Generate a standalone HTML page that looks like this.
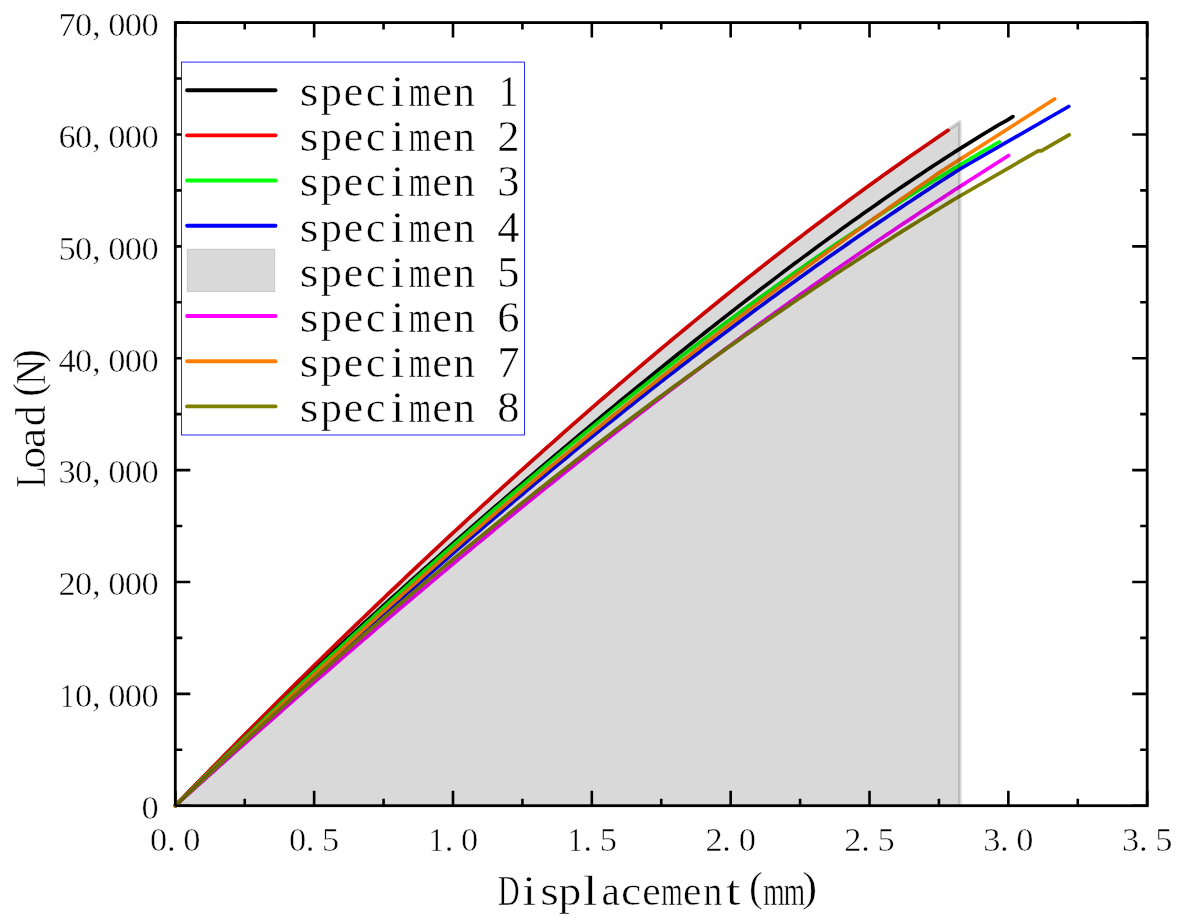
<!DOCTYPE html><html><head><meta charset="utf-8"><style>html,body{margin:0;padding:0;background:#fff;}svg{display:block;}text{font-family:"Liberation Serif",serif;fill:#000;stroke:#fff;stroke-width:0.5px;}</style></head><body>
<svg width="1184" height="922" viewBox="0 0 1184 922">
<rect x="0" y="0" width="1184" height="922" fill="#fff"/>
<rect x="175.30" y="22.60" width="971.90" height="783.10" fill="none" stroke="#000" stroke-width="2.8"/>
<path d="M175.30,805.70 L179.30,801.60 L183.30,797.50 L187.30,793.42 L191.30,789.36 L195.30,785.30 L199.30,781.26 L203.30,777.22 L207.30,773.20 L211.30,769.19 L215.30,765.19 L219.30,761.21 L223.30,757.23 L227.30,753.26 L231.30,749.31 L235.30,745.36 L239.30,741.43 L243.30,737.50 L247.30,733.59 L251.30,729.69 L255.30,725.79 L259.30,721.91 L263.30,718.03 L267.30,714.17 L271.30,710.31 L275.30,706.46 L279.30,702.62 L283.30,698.79 L287.30,694.97 L291.30,691.16 L295.30,687.36 L299.30,683.57 L303.30,679.78 L307.30,676.01 L311.30,672.24 L315.30,668.48 L319.30,664.72 L323.30,660.98 L327.30,657.24 L331.30,653.52 L335.30,649.79 L339.30,646.08 L343.30,642.38 L347.30,638.68 L351.30,634.99 L355.30,631.30 L359.30,627.63 L363.30,623.96 L367.30,620.30 L371.30,616.64 L375.30,613.00 L379.30,609.36 L383.30,605.72 L387.30,602.09 L391.30,598.47 L395.30,594.86 L399.30,591.25 L403.30,587.65 L407.30,584.06 L411.30,580.47 L415.30,576.89 L419.30,573.31 L423.30,569.74 L427.30,566.18 L431.30,562.62 L435.30,559.07 L439.30,555.53 L443.30,551.99 L447.30,548.45 L451.30,544.93 L455.30,541.40 L459.30,537.89 L463.30,534.38 L467.30,530.88 L471.30,527.38 L475.30,523.88 L479.30,520.40 L483.30,516.92 L487.30,513.44 L491.30,509.97 L495.30,506.50 L499.30,503.05 L503.30,499.59 L507.30,496.14 L511.30,492.70 L515.30,489.26 L519.30,485.83 L523.30,482.40 L527.30,478.98 L531.30,475.57 L535.30,472.16 L539.30,468.75 L543.30,465.35 L547.30,461.96 L551.30,458.57 L555.30,455.19 L559.30,451.81 L563.30,448.44 L567.30,445.07 L571.30,441.71 L575.30,438.35 L579.30,435.00 L583.30,431.66 L587.30,428.32 L591.30,424.98 L595.30,421.65 L599.30,418.33 L603.30,415.01 L607.30,411.70 L611.30,408.39 L615.30,405.09 L619.30,401.80 L623.30,398.51 L627.30,395.22 L631.30,391.94 L635.30,388.67 L639.30,385.40 L643.30,382.14 L647.30,378.89 L651.30,375.64 L655.30,372.39 L659.30,369.16 L663.30,365.93 L667.30,362.70 L671.30,359.48 L675.30,356.27 L679.30,353.06 L683.30,349.86 L687.30,346.67 L691.30,343.48 L695.30,340.30 L699.30,337.13 L703.30,333.96 L707.30,330.80 L711.30,327.64 L715.30,324.50 L719.30,321.36 L723.30,318.22 L727.30,315.10 L731.30,311.98 L735.30,308.86 L739.30,305.76 L743.30,302.66 L747.30,299.57 L751.30,296.49 L755.30,293.41 L759.30,290.34 L763.30,287.28 L767.30,284.23 L771.30,281.19 L775.30,278.15 L779.30,275.12 L783.30,272.10 L787.30,269.09 L791.30,266.09 L795.30,263.09 L799.30,260.11 L803.30,257.13 L807.30,254.16 L811.30,251.20 L815.30,248.25 L819.30,245.31 L823.30,242.38 L827.30,239.45 L831.30,236.54 L835.30,233.64 L839.30,230.74 L843.30,227.86 L847.30,224.98 L851.30,222.12 L855.30,219.27 L859.30,216.42 L863.30,213.59 L867.30,210.77 L871.30,207.95 L875.30,205.15 L879.30,202.36 L883.30,199.58 L887.30,196.82 L891.30,194.06 L895.30,191.32 L899.30,188.58 L903.30,185.86 L907.30,183.15 L911.30,180.46 L915.30,177.77 L919.30,175.10 L923.30,172.44 L927.30,169.79 L931.30,167.16 L935.30,164.54 L939.30,161.93 L943.30,159.33 L947.30,156.75 L951.30,154.19 L955.30,151.63 L959.30,149.09 L963.30,146.57 L967.30,144.06 L971.30,141.56 L975.30,139.08 L979.30,136.61 L983.30,134.16 L987.30,131.73 L991.30,129.30 L995.30,126.90 L999.30,124.51 L1000.00,124.09 L1006.50,120.60 L1012.90,116.60" fill="none" stroke="#000000" stroke-width="3.70" stroke-linecap="round" stroke-linejoin="round"/>
<path d="M175.30,805.70 L179.30,801.55 L183.30,797.42 L187.30,793.28 L191.30,789.16 L195.30,785.04 L199.30,780.92 L203.30,776.82 L207.30,772.72 L211.30,768.62 L215.30,764.54 L219.30,760.46 L223.30,756.38 L227.30,752.31 L231.30,748.25 L235.30,744.20 L239.30,740.15 L243.30,736.10 L247.30,732.07 L251.30,728.04 L255.30,724.01 L259.30,719.99 L263.30,715.98 L267.30,711.98 L271.30,707.98 L275.30,703.99 L279.30,700.00 L283.30,696.02 L287.30,692.05 L291.30,688.08 L295.30,684.12 L299.30,680.16 L303.30,676.21 L307.30,672.27 L311.30,668.33 L315.30,664.40 L319.30,660.48 L323.30,656.56 L327.30,652.65 L331.30,648.74 L335.30,644.84 L339.30,640.95 L343.30,637.06 L347.30,633.18 L351.30,629.30 L355.30,625.44 L359.30,621.57 L363.30,617.72 L367.30,613.87 L371.30,610.02 L375.30,606.18 L379.30,602.35 L383.30,598.53 L387.30,594.71 L391.30,590.90 L395.30,587.09 L399.30,583.29 L403.30,579.49 L407.30,575.71 L411.30,571.92 L415.30,568.15 L419.30,564.38 L423.30,560.62 L427.30,556.86 L431.30,553.11 L435.30,549.37 L439.30,545.63 L443.30,541.90 L447.30,538.17 L451.30,534.45 L455.30,530.74 L459.30,527.04 L463.30,523.34 L467.30,519.64 L471.30,515.96 L475.30,512.28 L479.30,508.60 L483.30,504.93 L487.30,501.27 L491.30,497.62 L495.30,493.97 L499.30,490.33 L503.30,486.69 L507.30,483.07 L511.30,479.44 L515.30,475.83 L519.30,472.22 L523.30,468.62 L527.30,465.02 L531.30,461.43 L535.30,457.85 L539.30,454.28 L543.30,450.71 L547.30,447.15 L551.30,443.59 L555.30,440.04 L559.30,436.50 L563.30,432.97 L567.30,429.44 L571.30,425.92 L575.30,422.41 L579.30,418.90 L583.30,415.40 L587.30,411.91 L591.30,408.42 L595.30,404.94 L599.30,401.47 L603.30,398.01 L607.30,394.55 L611.30,391.10 L615.30,387.66 L619.30,384.22 L623.30,380.79 L627.30,377.37 L631.30,373.96 L635.30,370.55 L639.30,367.15 L643.30,363.76 L647.30,360.38 L651.30,357.00 L655.30,353.63 L659.30,350.27 L663.30,346.91 L667.30,343.57 L671.30,340.23 L675.30,336.90 L679.30,333.57 L683.30,330.26 L687.30,326.95 L691.30,323.65 L695.30,320.36 L699.30,317.08 L703.30,313.80 L707.30,310.53 L711.30,307.27 L715.30,304.02 L719.30,300.78 L723.30,297.54 L727.30,294.31 L731.30,291.09 L735.30,287.88 L739.30,284.68 L743.30,281.48 L747.30,278.30 L751.30,275.12 L755.30,271.95 L759.30,268.79 L763.30,265.64 L767.30,262.50 L771.30,259.36 L775.30,256.24 L779.30,253.12 L783.30,250.01 L787.30,246.91 L791.30,243.82 L795.30,240.74 L799.30,237.67 L803.30,234.61 L807.30,231.55 L811.30,228.51 L815.30,225.47 L819.30,222.44 L823.30,219.43 L827.30,216.42 L831.30,213.42 L835.30,210.43 L839.30,207.45 L843.30,204.48 L847.30,201.52 L851.30,198.57 L855.30,195.63 L859.30,192.70 L863.30,189.78 L867.30,186.87 L871.30,183.97 L875.30,181.08 L879.30,178.20 L883.30,175.33 L887.30,172.47 L891.30,169.62 L895.30,166.78 L899.30,163.95 L903.30,161.13 L907.30,158.32 L911.30,155.53 L915.30,152.74 L919.30,149.96 L923.30,147.20 L927.30,144.44 L931.30,141.70 L935.30,138.97 L939.30,136.24 L943.30,133.53 L947.30,130.83 L948.00,130.36" fill="none" stroke="#ff0000" stroke-width="3.70" stroke-linecap="round" stroke-linejoin="round"/>
<path d="M175.30,805.70 L179.30,801.74 L183.30,797.79 L187.30,793.84 L191.30,789.90 L195.30,785.96 L199.30,782.03 L203.30,778.11 L207.30,774.19 L211.30,770.28 L215.30,766.37 L219.30,762.47 L223.30,758.58 L227.30,754.69 L231.30,750.81 L235.30,746.93 L239.30,743.06 L243.30,739.20 L247.30,735.34 L251.30,731.48 L255.30,727.64 L259.30,723.80 L263.30,719.96 L267.30,716.13 L271.30,712.31 L275.30,708.49 L279.30,704.68 L283.30,700.88 L287.30,697.08 L291.30,693.29 L295.30,689.50 L299.30,685.72 L303.30,681.95 L307.30,678.18 L311.30,674.42 L315.30,670.67 L319.30,666.92 L323.30,663.18 L327.30,659.44 L331.30,655.71 L335.30,651.99 L339.30,648.27 L343.30,644.56 L347.30,640.86 L351.30,637.16 L355.30,633.47 L359.30,629.78 L363.30,626.10 L367.30,622.43 L371.30,618.77 L375.30,615.11 L379.30,611.46 L383.30,607.81 L387.30,604.17 L391.30,600.54 L395.30,596.91 L399.30,593.29 L403.30,589.68 L407.30,586.08 L411.30,582.48 L415.30,578.89 L419.30,575.30 L423.30,571.72 L427.30,568.15 L431.30,564.59 L435.30,561.03 L439.30,557.48 L443.30,553.93 L447.30,550.39 L451.30,546.86 L455.30,543.34 L459.30,539.82 L463.30,536.32 L467.30,532.81 L471.30,529.32 L475.30,525.83 L479.30,522.35 L483.30,518.88 L487.30,515.41 L491.30,511.95 L495.30,508.50 L499.30,505.05 L503.30,501.61 L507.30,498.18 L511.30,494.76 L515.30,491.34 L519.30,487.94 L523.30,484.54 L527.30,481.14 L531.30,477.76 L535.30,474.38 L539.30,471.01 L543.30,467.64 L547.30,464.29 L551.30,460.94 L555.30,457.60 L559.30,454.27 L563.30,450.94 L567.30,447.62 L571.30,444.31 L575.30,441.01 L579.30,437.72 L583.30,434.43 L587.30,431.15 L591.30,427.88 L595.30,424.62 L599.30,421.36 L603.30,418.12 L607.30,414.88 L611.30,411.65 L615.30,408.42 L619.30,405.21 L623.30,402.00 L627.30,398.80 L631.30,395.61 L635.30,392.43 L639.30,389.26 L643.30,386.09 L647.30,382.93 L651.30,379.79 L655.30,376.65 L659.30,373.51 L663.30,370.39 L667.30,367.28 L671.30,364.17 L675.30,361.07 L679.30,357.98 L683.30,354.90 L687.30,351.83 L691.30,348.77 L695.30,345.71 L699.30,342.66 L703.30,339.63 L707.30,336.60 L711.30,333.58 L715.30,330.57 L719.30,327.57 L723.30,324.57 L727.30,321.59 L731.30,318.62 L735.30,315.65 L739.30,312.69 L743.30,309.75 L747.30,306.81 L751.30,303.88 L755.30,300.96 L759.30,298.05 L763.30,295.15 L767.30,292.26 L771.30,289.38 L775.30,286.50 L779.30,283.64 L783.30,280.79 L787.30,277.94 L791.30,275.11 L795.30,272.28 L799.30,269.47 L803.30,266.66 L807.30,263.86 L811.30,261.08 L815.30,258.30 L819.30,255.54 L823.30,252.78 L827.30,250.03 L831.30,247.30 L835.30,244.57 L839.30,241.85 L843.30,239.15 L847.30,236.45 L851.30,233.76 L855.30,231.09 L859.30,228.42 L863.30,225.77 L867.30,223.12 L871.30,220.49 L875.30,217.86 L879.30,215.25 L883.30,212.65 L887.30,210.06 L891.30,207.47 L895.30,204.90 L899.30,202.34 L903.30,199.79 L907.30,197.25 L911.30,194.73 L915.30,192.21 L919.30,189.70 L923.30,187.21 L927.30,184.72 L931.30,182.25 L935.30,179.79 L939.30,177.34 L943.30,174.90 L947.30,172.47 L951.30,170.05 L955.30,167.64 L959.30,165.25 L963.30,162.87 L967.30,160.49 L971.30,158.13 L975.30,155.78 L979.30,153.45 L983.30,151.12 L987.30,148.81 L991.30,146.51 L995.30,144.22 L999.20,141.99" fill="none" stroke="#00ff00" stroke-width="3.70" stroke-linecap="round" stroke-linejoin="round"/>
<path d="M175.30,805.70 L179.30,801.92 L183.30,798.14 L187.30,794.37 L191.30,790.60 L195.30,786.84 L199.30,783.07 L203.30,779.32 L207.30,775.56 L211.30,771.81 L215.30,768.06 L219.30,764.32 L223.30,760.58 L227.30,756.84 L231.30,753.11 L235.30,749.38 L239.30,745.66 L243.30,741.94 L247.30,738.22 L251.30,734.51 L255.30,730.80 L259.30,727.10 L263.30,723.40 L267.30,719.71 L271.30,716.01 L275.30,712.33 L279.30,708.65 L283.30,704.97 L287.30,701.29 L291.30,697.63 L295.30,693.96 L299.30,690.30 L303.30,686.64 L307.30,682.99 L311.30,679.35 L315.30,675.71 L319.30,672.07 L323.30,668.44 L327.30,664.81 L331.30,661.18 L335.30,657.57 L339.30,653.95 L343.30,650.34 L347.30,646.74 L351.30,643.14 L355.30,639.55 L359.30,635.96 L363.30,632.38 L367.30,628.80 L371.30,625.22 L375.30,621.65 L379.30,618.09 L383.30,614.53 L387.30,610.98 L391.30,607.43 L395.30,603.89 L399.30,600.35 L403.30,596.82 L407.30,593.29 L411.30,589.77 L415.30,586.26 L419.30,582.75 L423.30,579.24 L427.30,575.74 L431.30,572.25 L435.30,568.76 L439.30,565.28 L443.30,561.80 L447.30,558.33 L451.30,554.86 L455.30,551.40 L459.30,547.95 L463.30,544.50 L467.30,541.06 L471.30,537.62 L475.30,534.19 L479.30,530.77 L483.30,527.35 L487.30,523.93 L491.30,520.53 L495.30,517.12 L499.30,513.73 L503.30,510.34 L507.30,506.96 L511.30,503.58 L515.30,500.21 L519.30,496.84 L523.30,493.49 L527.30,490.13 L531.30,486.79 L535.30,483.45 L539.30,480.11 L543.30,476.79 L547.30,473.46 L551.30,470.15 L555.30,466.84 L559.30,463.54 L563.30,460.24 L567.30,456.96 L571.30,453.67 L575.30,450.40 L579.30,447.13 L583.30,443.86 L587.30,440.61 L591.30,437.36 L595.30,434.12 L599.30,430.88 L603.30,427.65 L607.30,424.43 L611.30,421.21 L615.30,418.00 L619.30,414.80 L623.30,411.60 L627.30,408.41 L631.30,405.23 L635.30,402.05 L639.30,398.88 L643.30,395.72 L647.30,392.57 L651.30,389.42 L655.30,386.28 L659.30,383.15 L663.30,380.02 L667.30,376.90 L671.30,373.79 L675.30,370.68 L679.30,367.58 L683.30,364.49 L687.30,361.41 L691.30,358.33 L695.30,355.26 L699.30,352.20 L703.30,349.14 L707.30,346.09 L711.30,343.05 L715.30,340.02 L719.30,336.99 L723.30,333.97 L727.30,330.96 L731.30,327.96 L735.30,324.96 L739.30,321.97 L743.30,318.99 L747.30,316.01 L751.30,313.05 L755.30,310.09 L759.30,307.13 L763.30,304.19 L767.30,301.25 L771.30,298.32 L775.30,295.40 L779.30,292.48 L783.30,289.58 L787.30,286.68 L791.30,283.79 L795.30,280.90 L799.30,278.03 L803.30,275.16 L807.30,272.30 L811.30,269.44 L815.30,266.60 L819.30,263.76 L823.30,260.93 L827.30,258.11 L831.30,255.30 L835.30,252.49 L839.30,249.69 L843.30,246.90 L847.30,244.12 L851.30,241.34 L855.30,238.58 L859.30,235.82 L863.30,233.07 L867.30,230.32 L871.30,227.59 L875.30,224.86 L879.30,222.14 L883.30,219.43 L887.30,216.73 L891.30,214.03 L895.30,211.34 L899.30,208.66 L903.30,205.99 L907.30,203.33 L911.30,200.68 L915.30,198.03 L919.30,195.39 L923.30,192.76 L927.30,190.14 L931.30,187.53 L935.30,184.92 L939.30,182.32 L943.30,179.73 L947.30,177.15 L951.30,174.58 L955.30,172.01 L959.30,169.46 L960.00,169.01 L1049.50,117.50 L1068.70,106.50" fill="none" stroke="#0000ff" stroke-width="3.70" stroke-linecap="round" stroke-linejoin="round"/>
<path d="M175.30,805.70 L179.30,802.09 L183.30,798.49 L187.30,794.89 L191.30,791.29 L195.30,787.70 L199.30,784.11 L203.30,780.52 L207.30,776.93 L211.30,773.35 L215.30,769.77 L219.30,766.20 L223.30,762.63 L227.30,759.06 L231.30,755.49 L235.30,751.93 L239.30,748.37 L243.30,744.82 L247.30,741.27 L251.30,737.72 L255.30,734.18 L259.30,730.64 L263.30,727.10 L267.30,723.57 L271.30,720.04 L275.30,716.51 L279.30,712.99 L283.30,709.47 L287.30,705.95 L291.30,702.44 L295.30,698.94 L299.30,695.43 L303.30,691.93 L307.30,688.44 L311.30,684.94 L315.30,681.46 L319.30,677.97 L323.30,674.49 L327.30,671.02 L331.30,667.54 L335.30,664.08 L339.30,660.61 L343.30,657.15 L347.30,653.70 L351.30,650.24 L355.30,646.80 L359.30,643.35 L363.30,639.91 L367.30,636.48 L371.30,633.05 L375.30,629.62 L379.30,626.20 L383.30,622.78 L387.30,619.37 L391.30,615.96 L395.30,612.55 L399.30,609.15 L403.30,605.76 L407.30,602.37 L411.30,598.98 L415.30,595.60 L419.30,592.22 L423.30,588.85 L427.30,585.48 L431.30,582.12 L435.30,578.76 L439.30,575.40 L443.30,572.05 L447.30,568.71 L451.30,565.37 L455.30,562.03 L459.30,558.70 L463.30,555.37 L467.30,552.05 L471.30,548.74 L475.30,545.42 L479.30,542.12 L483.30,538.82 L487.30,535.52 L491.30,532.23 L495.30,528.94 L499.30,525.66 L503.30,522.38 L507.30,519.11 L511.30,515.84 L515.30,512.58 L519.30,509.33 L523.30,506.07 L527.30,502.83 L531.30,499.59 L535.30,496.35 L539.30,493.12 L543.30,489.90 L547.30,486.68 L551.30,483.46 L555.30,480.25 L559.30,477.05 L563.30,473.85 L567.30,470.66 L571.30,467.47 L575.30,464.29 L579.30,461.11 L583.30,457.94 L587.30,454.77 L591.30,451.61 L595.30,448.46 L599.30,445.31 L603.30,442.16 L607.30,439.02 L611.30,435.89 L615.30,432.76 L619.30,429.64 L623.30,426.53 L627.30,423.42 L631.30,420.31 L635.30,417.21 L639.30,414.12 L643.30,411.03 L647.30,407.95 L651.30,404.88 L655.30,401.81 L659.30,398.74 L663.30,395.68 L667.30,392.63 L671.30,389.59 L675.30,386.55 L679.30,383.51 L683.30,380.48 L687.30,377.46 L691.30,374.44 L695.30,371.43 L699.30,368.43 L703.30,365.43 L707.30,362.44 L711.30,359.45 L715.30,356.47 L719.30,353.50 L723.30,350.53 L727.30,347.57 L731.30,344.62 L735.30,341.67 L739.30,338.72 L743.30,335.79 L747.30,332.86 L751.30,329.93 L755.30,327.02 L759.30,324.10 L763.30,321.20 L767.30,318.30 L771.30,315.41 L775.30,312.52 L779.30,309.64 L783.30,306.77 L787.30,303.90 L791.30,301.04 L795.30,298.19 L799.30,295.34 L803.30,292.50 L807.30,289.67 L811.30,286.84 L815.30,284.02 L819.30,281.21 L823.30,278.40 L827.30,275.60 L831.30,272.80 L835.30,270.01 L839.30,267.23 L843.30,264.46 L847.30,261.69 L851.30,258.93 L855.30,256.18 L859.30,253.43 L863.30,250.69 L867.30,247.95 L871.30,245.23 L875.30,242.51 L879.30,239.79 L883.30,237.09 L887.30,234.39 L891.30,231.70 L895.30,229.01 L899.30,226.33 L903.30,223.66 L907.30,220.99 L911.30,218.34 L915.30,215.69 L919.30,213.04 L923.30,210.40 L927.30,207.77 L931.30,205.15 L935.30,202.54 L939.30,199.93 L943.30,197.33 L947.30,194.73 L951.30,192.14 L955.30,189.56 L959.30,186.99 L963.30,184.42 L967.00,182.06 L1008.60,155.50" fill="none" stroke="#ff00ff" stroke-width="3.70" stroke-linecap="round" stroke-linejoin="round"/>
<path d="M175.30,805.70 L179.30,801.86 L183.30,798.02 L187.30,794.18 L191.30,790.35 L195.30,786.52 L199.30,782.70 L203.30,778.88 L207.30,775.06 L211.30,771.24 L215.30,767.43 L219.30,763.63 L223.30,759.83 L227.30,756.03 L231.30,752.23 L235.30,748.44 L239.30,744.66 L243.30,740.87 L247.30,737.10 L251.30,733.32 L255.30,729.56 L259.30,725.79 L263.30,722.03 L267.30,718.28 L271.30,714.53 L275.30,710.78 L279.30,707.04 L283.30,703.30 L287.30,699.57 L291.30,695.85 L295.30,692.13 L299.30,688.41 L303.30,684.70 L307.30,680.99 L311.30,677.29 L315.30,673.60 L319.30,669.91 L323.30,666.22 L327.30,662.54 L331.30,658.87 L335.30,655.20 L339.30,651.54 L343.30,647.88 L347.30,644.23 L351.30,640.58 L355.30,636.94 L359.30,633.31 L363.30,629.68 L367.30,626.06 L371.30,622.44 L375.30,618.83 L379.30,615.22 L383.30,611.62 L387.30,608.03 L391.30,604.44 L395.30,600.86 L399.30,597.28 L403.30,593.71 L407.30,590.15 L411.30,586.59 L415.30,583.04 L419.30,579.50 L423.30,575.96 L427.30,572.43 L431.30,568.90 L435.30,565.38 L439.30,561.87 L443.30,558.36 L447.30,554.86 L451.30,551.37 L455.30,547.88 L459.30,544.40 L463.30,540.92 L467.30,537.46 L471.30,533.99 L475.30,530.54 L479.30,527.09 L483.30,523.65 L487.30,520.21 L491.30,516.78 L495.30,513.36 L499.30,509.95 L503.30,506.54 L507.30,503.13 L511.30,499.74 L515.30,496.35 L519.30,492.97 L523.30,489.59 L527.30,486.22 L531.30,482.86 L535.30,479.51 L539.30,476.16 L543.30,472.81 L547.30,469.48 L551.30,466.15 L555.30,462.83 L559.30,459.51 L563.30,456.20 L567.30,452.90 L571.30,449.61 L575.30,446.32 L579.30,443.04 L583.30,439.76 L587.30,436.49 L591.30,433.23 L595.30,429.98 L599.30,426.73 L603.30,423.49 L607.30,420.25 L611.30,417.03 L615.30,413.80 L619.30,410.59 L623.30,407.38 L627.30,404.18 L631.30,400.98 L635.30,397.80 L639.30,394.61 L643.30,391.44 L647.30,388.27 L651.30,385.11 L655.30,381.95 L659.30,378.80 L663.30,375.66 L667.30,372.52 L671.30,369.40 L675.30,366.27 L679.30,363.15 L683.30,360.04 L687.30,356.94 L691.30,353.84 L695.30,350.75 L699.30,347.67 L703.30,344.59 L707.30,341.51 L711.30,338.45 L715.30,335.39 L719.30,332.33 L723.30,329.28 L727.30,326.24 L731.30,323.21 L735.30,320.18 L739.30,317.15 L743.30,314.13 L747.30,311.12 L751.30,308.11 L755.30,305.11 L759.30,302.12 L763.30,299.13 L767.30,296.15 L771.30,293.17 L775.30,290.20 L779.30,287.23 L783.30,284.27 L787.30,281.31 L791.30,278.36 L795.30,275.42 L799.30,272.48 L803.30,269.55 L807.30,266.62 L811.30,263.70 L815.30,260.78 L819.30,257.87 L823.30,254.96 L827.30,252.06 L831.30,249.16 L835.30,246.26 L839.30,243.38 L843.30,240.49 L847.30,237.62 L851.30,234.74 L855.30,231.87 L859.30,229.01 L863.30,226.15 L867.30,223.29 L871.30,220.44 L875.30,217.60 L879.30,214.76 L883.30,211.92 L887.30,209.08 L891.30,206.26 L895.30,203.43 L899.30,200.61 L903.30,197.79 L907.30,194.98 L911.30,192.17 L915.30,189.36 L919.30,186.56 L923.30,183.76 L927.30,180.97 L931.30,178.17 L935.30,175.39 L939.30,172.60 L940.00,172.11 L1054.60,99.00" fill="none" stroke="#ff8000" stroke-width="3.70" stroke-linecap="round" stroke-linejoin="round"/>
<path d="M175.30,805.70 L179.30,801.93 L183.30,798.17 L187.30,794.41 L191.30,790.66 L195.30,786.92 L199.30,783.18 L203.30,779.45 L207.30,775.72 L211.30,772.00 L215.30,768.29 L219.30,764.58 L223.30,760.88 L227.30,757.19 L231.30,753.50 L235.30,749.82 L239.30,746.15 L243.30,742.48 L247.30,738.82 L251.30,735.16 L255.30,731.51 L259.30,727.87 L263.30,724.23 L267.30,720.60 L271.30,716.98 L275.30,713.36 L279.30,709.75 L283.30,706.15 L287.30,702.55 L291.30,698.96 L295.30,695.37 L299.30,691.80 L303.30,688.22 L307.30,684.66 L311.30,681.10 L315.30,677.55 L319.30,674.00 L323.30,670.46 L327.30,666.93 L331.30,663.40 L335.30,659.88 L339.30,656.37 L343.30,652.87 L347.30,649.37 L351.30,645.87 L355.30,642.39 L359.30,638.91 L363.30,635.43 L367.30,631.97 L371.30,628.50 L375.30,625.05 L379.30,621.60 L383.30,618.16 L387.30,614.73 L391.30,611.30 L395.30,607.88 L399.30,604.47 L403.30,601.06 L407.30,597.66 L411.30,594.27 L415.30,590.88 L419.30,587.50 L423.30,584.13 L427.30,580.76 L431.30,577.40 L435.30,574.05 L439.30,570.70 L443.30,567.37 L447.30,564.03 L451.30,560.71 L455.30,557.39 L459.30,554.08 L463.30,550.77 L467.30,547.47 L471.30,544.18 L475.30,540.90 L479.30,537.62 L483.30,534.35 L487.30,531.08 L491.30,527.83 L495.30,524.57 L499.30,521.33 L503.30,518.09 L507.30,514.87 L511.30,511.64 L515.30,508.43 L519.30,505.22 L523.30,502.02 L527.30,498.82 L531.30,495.63 L535.30,492.45 L539.30,489.28 L543.30,486.11 L547.30,482.95 L551.30,479.80 L555.30,476.65 L559.30,473.51 L563.30,470.38 L567.30,467.25 L571.30,464.14 L575.30,461.03 L579.30,457.92 L583.30,454.83 L587.30,451.74 L591.30,448.65 L595.30,445.58 L599.30,442.51 L603.30,439.45 L607.30,436.39 L611.30,433.35 L615.30,430.31 L619.30,427.27 L623.30,424.25 L627.30,421.23 L631.30,418.22 L635.30,415.21 L639.30,412.22 L643.30,409.23 L647.30,406.24 L651.30,403.27 L655.30,400.30 L659.30,397.34 L663.30,394.39 L667.30,391.44 L671.30,388.50 L675.30,385.57 L679.30,382.64 L683.30,379.72 L687.30,376.81 L691.30,373.91 L695.30,371.02 L699.30,368.13 L703.30,365.25 L707.30,362.37 L711.30,359.51 L715.30,356.65 L719.30,353.79 L723.30,350.95 L727.30,348.11 L731.30,345.28 L735.30,342.46 L739.30,339.65 L743.30,336.84 L747.30,334.04 L751.30,331.25 L755.30,328.46 L759.30,325.68 L763.30,322.91 L767.30,320.15 L771.30,317.39 L775.30,314.64 L779.30,311.90 L783.30,309.17 L787.30,306.44 L791.30,303.72 L795.30,301.01 L799.30,298.31 L803.30,295.61 L807.30,292.93 L811.30,290.24 L815.30,287.57 L819.30,284.91 L823.30,282.25 L827.30,279.60 L831.30,276.95 L835.30,274.32 L839.30,271.69 L843.30,269.07 L847.30,266.45 L851.30,263.85 L855.30,261.25 L859.30,258.66 L863.30,256.08 L867.30,253.50 L871.30,250.94 L875.30,248.38 L879.30,245.82 L883.30,243.28 L887.30,240.74 L891.30,238.21 L895.30,235.69 L899.30,233.18 L903.30,230.67 L907.30,228.17 L911.30,225.68 L915.30,223.20 L919.30,220.72 L923.30,218.26 L927.30,215.80 L931.30,213.34 L935.30,210.90 L939.30,208.46 L943.30,206.03 L947.30,203.61 L951.30,201.20 L955.30,198.79 L959.30,196.40 L960.00,195.98 L1038.30,150.90 L1041.30,150.90 L1069.10,134.80" fill="none" stroke="#808000" stroke-width="3.70" stroke-linecap="round" stroke-linejoin="round"/>
<path d="M175.30,805.70 L179.30,801.56 L183.30,797.42 L187.30,793.29 L191.30,789.17 L195.30,785.05 L199.30,780.94 L203.30,776.84 L207.30,772.74 L211.30,768.65 L215.30,764.56 L219.30,760.48 L223.30,756.41 L227.30,752.34 L231.30,748.28 L235.30,744.23 L239.30,740.18 L243.30,736.13 L247.30,732.10 L251.30,728.07 L255.30,724.04 L259.30,720.02 L263.30,716.01 L267.30,712.01 L271.30,708.01 L275.30,704.01 L279.30,700.03 L283.30,696.04 L287.30,692.07 L291.30,688.10 L295.30,684.14 L299.30,680.18 L303.30,676.23 L307.30,672.28 L311.30,668.35 L315.30,664.41 L319.30,660.49 L323.30,656.57 L327.30,652.65 L331.30,648.75 L335.30,644.85 L339.30,640.95 L343.30,637.06 L347.30,633.18 L351.30,629.30 L355.30,625.43 L359.30,621.57 L363.30,617.71 L367.30,613.86 L371.30,610.01 L375.30,606.17 L379.30,602.34 L383.30,598.51 L387.30,594.69 L391.30,590.88 L395.30,587.07 L399.30,583.27 L403.30,579.47 L407.30,575.68 L411.30,571.90 L415.30,568.12 L419.30,564.35 L423.30,560.59 L427.30,556.83 L431.30,553.08 L435.30,549.33 L439.30,545.59 L443.30,541.86 L447.30,538.14 L451.30,534.42 L455.30,530.70 L459.30,527.00 L463.30,523.30 L467.30,519.60 L471.30,515.92 L475.30,512.24 L479.30,508.56 L483.30,504.90 L487.30,501.24 L491.30,497.58 L495.30,493.93 L499.30,490.29 L503.30,486.66 L507.30,483.03 L511.30,479.41 L515.30,475.79 L519.30,472.19 L523.30,468.59 L527.30,464.99 L531.30,461.40 L535.30,457.82 L539.30,454.25 L543.30,450.68 L547.30,447.12 L551.30,443.57 L555.30,440.02 L559.30,436.48 L563.30,432.95 L567.30,429.42 L571.30,425.90 L575.30,422.39 L579.30,418.89 L583.30,415.39 L587.30,411.90 L591.30,408.42 L595.30,404.94 L599.30,401.47 L603.30,398.01 L607.30,394.55 L611.30,391.10 L615.30,387.66 L619.30,384.23 L623.30,380.80 L627.30,377.38 L631.30,373.97 L635.30,370.57 L639.30,367.17 L643.30,363.78 L647.30,360.40 L651.30,357.03 L655.30,353.66 L659.30,350.30 L663.30,346.95 L667.30,343.60 L671.30,340.27 L675.30,336.94 L679.30,333.61 L683.30,330.30 L687.30,327.00 L691.30,323.70 L695.30,320.41 L699.30,317.12 L703.30,313.85 L707.30,310.58 L711.30,307.32 L715.30,304.07 L719.30,300.83 L723.30,297.59 L727.30,294.37 L731.30,291.15 L735.30,287.94 L739.30,284.74 L743.30,281.54 L747.30,278.36 L751.30,275.18 L755.30,272.01 L759.30,268.85 L763.30,265.69 L767.30,262.55 L771.30,259.41 L775.30,256.29 L779.30,253.17 L783.30,250.06 L787.30,246.96 L791.30,243.86 L795.30,240.78 L799.30,237.70 L803.30,234.64 L807.30,231.58 L811.30,228.53 L815.30,225.49 L819.30,222.46 L823.30,219.44 L827.30,216.42 L831.30,213.42 L835.30,210.42 L839.30,207.44 L843.30,204.46 L847.30,201.49 L851.30,198.53 L855.30,195.59 L859.30,192.65 L863.30,189.72 L867.30,186.79 L871.30,183.88 L875.30,180.98 L879.30,178.09 L883.30,175.21 L887.30,172.33 L891.30,169.47 L895.30,166.62 L899.30,163.77 L903.30,160.94 L907.30,158.12 L911.30,155.30 L915.30,152.50 L919.30,149.70 L923.30,146.92 L927.30,144.15 L931.30,141.38 L935.30,138.63 L939.30,135.89 L943.30,133.16 L947.30,130.43 L951.30,127.72 L955.30,125.02 L959.30,122.33 L959.80,121.99 L959.8,805.70 L175.30,805.70 Z" fill="rgba(0,0,0,0.15)" stroke="none"/>
<path d="M175.30,805.70 L179.30,801.56 L183.30,797.42 L187.30,793.29 L191.30,789.17 L195.30,785.05 L199.30,780.94 L203.30,776.84 L207.30,772.74 L211.30,768.65 L215.30,764.56 L219.30,760.48 L223.30,756.41 L227.30,752.34 L231.30,748.28 L235.30,744.23 L239.30,740.18 L243.30,736.13 L247.30,732.10 L251.30,728.07 L255.30,724.04 L259.30,720.02 L263.30,716.01 L267.30,712.01 L271.30,708.01 L275.30,704.01 L279.30,700.03 L283.30,696.04 L287.30,692.07 L291.30,688.10 L295.30,684.14 L299.30,680.18 L303.30,676.23 L307.30,672.28 L311.30,668.35 L315.30,664.41 L319.30,660.49 L323.30,656.57 L327.30,652.65 L331.30,648.75 L335.30,644.85 L339.30,640.95 L343.30,637.06 L347.30,633.18 L351.30,629.30 L355.30,625.43 L359.30,621.57 L363.30,617.71 L367.30,613.86 L371.30,610.01 L375.30,606.17 L379.30,602.34 L383.30,598.51 L387.30,594.69 L391.30,590.88 L395.30,587.07 L399.30,583.27 L403.30,579.47 L407.30,575.68 L411.30,571.90 L415.30,568.12 L419.30,564.35 L423.30,560.59 L427.30,556.83 L431.30,553.08 L435.30,549.33 L439.30,545.59 L443.30,541.86 L447.30,538.14 L451.30,534.42 L455.30,530.70 L459.30,527.00 L463.30,523.30 L467.30,519.60 L471.30,515.92 L475.30,512.24 L479.30,508.56 L483.30,504.90 L487.30,501.24 L491.30,497.58 L495.30,493.93 L499.30,490.29 L503.30,486.66 L507.30,483.03 L511.30,479.41 L515.30,475.79 L519.30,472.19 L523.30,468.59 L527.30,464.99 L531.30,461.40 L535.30,457.82 L539.30,454.25 L543.30,450.68 L547.30,447.12 L551.30,443.57 L555.30,440.02 L559.30,436.48 L563.30,432.95 L567.30,429.42 L571.30,425.90 L575.30,422.39 L579.30,418.89 L583.30,415.39 L587.30,411.90 L591.30,408.42 L595.30,404.94 L599.30,401.47 L603.30,398.01 L607.30,394.55 L611.30,391.10 L615.30,387.66 L619.30,384.23 L623.30,380.80 L627.30,377.38 L631.30,373.97 L635.30,370.57 L639.30,367.17 L643.30,363.78 L647.30,360.40 L651.30,357.03 L655.30,353.66 L659.30,350.30 L663.30,346.95 L667.30,343.60 L671.30,340.27 L675.30,336.94 L679.30,333.61 L683.30,330.30 L687.30,327.00 L691.30,323.70 L695.30,320.41 L699.30,317.12 L703.30,313.85 L707.30,310.58 L711.30,307.32 L715.30,304.07 L719.30,300.83 L723.30,297.59 L727.30,294.37 L731.30,291.15 L735.30,287.94 L739.30,284.74 L743.30,281.54 L747.30,278.36 L751.30,275.18 L755.30,272.01 L759.30,268.85 L763.30,265.69 L767.30,262.55 L771.30,259.41 L775.30,256.29 L779.30,253.17 L783.30,250.06 L787.30,246.96 L791.30,243.86 L795.30,240.78 L799.30,237.70 L803.30,234.64 L807.30,231.58 L811.30,228.53 L815.30,225.49 L819.30,222.46 L823.30,219.44 L827.30,216.42 L831.30,213.42 L835.30,210.42 L839.30,207.44 L843.30,204.46 L847.30,201.49 L851.30,198.53 L855.30,195.59 L859.30,192.65 L863.30,189.72 L867.30,186.79 L871.30,183.88 L875.30,180.98 L879.30,178.09 L883.30,175.21 L887.30,172.33 L891.30,169.47 L895.30,166.62 L899.30,163.77 L903.30,160.94 L907.30,158.12 L911.30,155.30 L915.30,152.50 L919.30,149.70 L923.30,146.92 L927.30,144.15 L931.30,141.38 L935.30,138.63 L939.30,135.89 L943.30,133.16 L947.30,130.43 L951.30,127.72 L955.30,125.02 L959.30,122.33 L959.80,121.99 L959.8,805.70" fill="none" stroke="rgba(0,0,0,0.15)" stroke-width="3.70" stroke-linejoin="round"/>
<path d="M175.30,805.70V790.70 M175.30,22.60V37.60 M244.72,805.70V798.70 M244.72,22.60V29.60 M175.30,805.70H190.30 M1147.20,805.70H1132.20 M175.30,749.76H182.30 M1147.20,749.76H1140.20 M314.14,805.70V790.70 M314.14,22.60V37.60 M383.56,805.70V798.70 M383.56,22.60V29.60 M175.30,693.83H190.30 M1147.20,693.83H1132.20 M175.30,637.89H182.30 M1147.20,637.89H1140.20 M452.99,805.70V790.70 M452.99,22.60V37.60 M522.41,805.70V798.70 M522.41,22.60V29.60 M175.30,581.96H190.30 M1147.20,581.96H1132.20 M175.30,526.02H182.30 M1147.20,526.02H1140.20 M591.83,805.70V790.70 M591.83,22.60V37.60 M661.25,805.70V798.70 M661.25,22.60V29.60 M175.30,470.09H190.30 M1147.20,470.09H1132.20 M175.30,414.15H182.30 M1147.20,414.15H1140.20 M730.67,805.70V790.70 M730.67,22.60V37.60 M800.09,805.70V798.70 M800.09,22.60V29.60 M175.30,358.21H190.30 M1147.20,358.21H1132.20 M175.30,302.28H182.30 M1147.20,302.28H1140.20 M869.51,805.70V790.70 M869.51,22.60V37.60 M938.94,805.70V798.70 M938.94,22.60V29.60 M175.30,246.34H190.30 M1147.20,246.34H1132.20 M175.30,190.41H182.30 M1147.20,190.41H1140.20 M1008.36,805.70V790.70 M1008.36,22.60V37.60 M1077.78,805.70V798.70 M1077.78,22.60V29.60 M175.30,134.47H190.30 M1147.20,134.47H1132.20 M175.30,78.54H182.30 M1147.20,78.54H1140.20 M1147.20,805.70V790.70 M1147.20,22.60V37.60 M175.30,22.60H190.30 M1147.20,22.60H1132.20" stroke="#000" stroke-width="2.60" fill="none"/>
<rect x="181.50" y="62.10" width="343.05" height="372.90" fill="#fff" stroke="#0000ff" stroke-width="0.85"/>
<path d="M187.1,90.20H275.5" stroke="#000000" stroke-width="3.9" stroke-linecap="round"/>
<path d="M187.1,135.37H275.5" stroke="#ff0000" stroke-width="3.9" stroke-linecap="round"/>
<path d="M187.1,180.54H275.5" stroke="#00ff00" stroke-width="3.9" stroke-linecap="round"/>
<path d="M187.1,225.71H275.5" stroke="#0000ff" stroke-width="3.9" stroke-linecap="round"/>
<rect x="187.3" y="249.3" width="87.3" height="42.3" fill="#d9d9d9" stroke="rgba(0,0,0,0.13)" stroke-width="1.2"/>
<path d="M187.1,316.05H275.5" stroke="#ff00ff" stroke-width="3.9" stroke-linecap="round"/>
<path d="M187.1,361.22H275.5" stroke="#ff8000" stroke-width="3.9" stroke-linecap="round"/>
<path d="M187.1,406.39H275.5" stroke="#808000" stroke-width="3.9" stroke-linecap="round"/>
<g opacity="0.999">
<text transform="translate(309.20,106.00) scale(1.080,1)" text-anchor="middle" font-size="44.6">s</text><text transform="translate(331.34,106.00) scale(0.950,1)" text-anchor="middle" font-size="44.6">p</text><text x="353.48" y="106.00" text-anchor="middle" font-size="44.6">e</text><text x="375.62" y="106.00" text-anchor="middle" font-size="44.6">c</text><text transform="translate(397.76,106.00) scale(1.120,1)" text-anchor="middle" font-size="44.6">i</text><text transform="translate(419.90,106.00) scale(0.645,1)" text-anchor="middle" font-size="44.6">m</text><text x="442.04" y="106.00" text-anchor="middle" font-size="44.6">e</text><text transform="translate(464.18,106.00) scale(0.960,1)" text-anchor="middle" font-size="44.6">n</text><text transform="translate(508.46,106.00) scale(0.880,1)" text-anchor="middle" font-size="44.6">1</text>
<text transform="translate(309.20,151.17) scale(1.080,1)" text-anchor="middle" font-size="44.6">s</text><text transform="translate(331.34,151.17) scale(0.950,1)" text-anchor="middle" font-size="44.6">p</text><text x="353.48" y="151.17" text-anchor="middle" font-size="44.6">e</text><text x="375.62" y="151.17" text-anchor="middle" font-size="44.6">c</text><text transform="translate(397.76,151.17) scale(1.120,1)" text-anchor="middle" font-size="44.6">i</text><text transform="translate(419.90,151.17) scale(0.645,1)" text-anchor="middle" font-size="44.6">m</text><text x="442.04" y="151.17" text-anchor="middle" font-size="44.6">e</text><text transform="translate(464.18,151.17) scale(0.960,1)" text-anchor="middle" font-size="44.6">n</text><text x="508.46" y="151.17" text-anchor="middle" font-size="44.6">2</text>
<text transform="translate(309.20,196.34) scale(1.080,1)" text-anchor="middle" font-size="44.6">s</text><text transform="translate(331.34,196.34) scale(0.950,1)" text-anchor="middle" font-size="44.6">p</text><text x="353.48" y="196.34" text-anchor="middle" font-size="44.6">e</text><text x="375.62" y="196.34" text-anchor="middle" font-size="44.6">c</text><text transform="translate(397.76,196.34) scale(1.120,1)" text-anchor="middle" font-size="44.6">i</text><text transform="translate(419.90,196.34) scale(0.645,1)" text-anchor="middle" font-size="44.6">m</text><text x="442.04" y="196.34" text-anchor="middle" font-size="44.6">e</text><text transform="translate(464.18,196.34) scale(0.960,1)" text-anchor="middle" font-size="44.6">n</text><text x="508.46" y="196.34" text-anchor="middle" font-size="44.6">3</text>
<text transform="translate(309.20,241.51) scale(1.080,1)" text-anchor="middle" font-size="44.6">s</text><text transform="translate(331.34,241.51) scale(0.950,1)" text-anchor="middle" font-size="44.6">p</text><text x="353.48" y="241.51" text-anchor="middle" font-size="44.6">e</text><text x="375.62" y="241.51" text-anchor="middle" font-size="44.6">c</text><text transform="translate(397.76,241.51) scale(1.120,1)" text-anchor="middle" font-size="44.6">i</text><text transform="translate(419.90,241.51) scale(0.645,1)" text-anchor="middle" font-size="44.6">m</text><text x="442.04" y="241.51" text-anchor="middle" font-size="44.6">e</text><text transform="translate(464.18,241.51) scale(0.960,1)" text-anchor="middle" font-size="44.6">n</text><text x="508.46" y="241.51" text-anchor="middle" font-size="44.6">4</text>
<text transform="translate(309.20,286.68) scale(1.080,1)" text-anchor="middle" font-size="44.6">s</text><text transform="translate(331.34,286.68) scale(0.950,1)" text-anchor="middle" font-size="44.6">p</text><text x="353.48" y="286.68" text-anchor="middle" font-size="44.6">e</text><text x="375.62" y="286.68" text-anchor="middle" font-size="44.6">c</text><text transform="translate(397.76,286.68) scale(1.120,1)" text-anchor="middle" font-size="44.6">i</text><text transform="translate(419.90,286.68) scale(0.645,1)" text-anchor="middle" font-size="44.6">m</text><text x="442.04" y="286.68" text-anchor="middle" font-size="44.6">e</text><text transform="translate(464.18,286.68) scale(0.960,1)" text-anchor="middle" font-size="44.6">n</text><text x="508.46" y="286.68" text-anchor="middle" font-size="44.6">5</text>
<text transform="translate(309.20,331.85) scale(1.080,1)" text-anchor="middle" font-size="44.6">s</text><text transform="translate(331.34,331.85) scale(0.950,1)" text-anchor="middle" font-size="44.6">p</text><text x="353.48" y="331.85" text-anchor="middle" font-size="44.6">e</text><text x="375.62" y="331.85" text-anchor="middle" font-size="44.6">c</text><text transform="translate(397.76,331.85) scale(1.120,1)" text-anchor="middle" font-size="44.6">i</text><text transform="translate(419.90,331.85) scale(0.645,1)" text-anchor="middle" font-size="44.6">m</text><text x="442.04" y="331.85" text-anchor="middle" font-size="44.6">e</text><text transform="translate(464.18,331.85) scale(0.960,1)" text-anchor="middle" font-size="44.6">n</text><text x="508.46" y="331.85" text-anchor="middle" font-size="44.6">6</text>
<text transform="translate(309.20,377.02) scale(1.080,1)" text-anchor="middle" font-size="44.6">s</text><text transform="translate(331.34,377.02) scale(0.950,1)" text-anchor="middle" font-size="44.6">p</text><text x="353.48" y="377.02" text-anchor="middle" font-size="44.6">e</text><text x="375.62" y="377.02" text-anchor="middle" font-size="44.6">c</text><text transform="translate(397.76,377.02) scale(1.120,1)" text-anchor="middle" font-size="44.6">i</text><text transform="translate(419.90,377.02) scale(0.645,1)" text-anchor="middle" font-size="44.6">m</text><text x="442.04" y="377.02" text-anchor="middle" font-size="44.6">e</text><text transform="translate(464.18,377.02) scale(0.960,1)" text-anchor="middle" font-size="44.6">n</text><text x="508.46" y="377.02" text-anchor="middle" font-size="44.6">7</text>
<text transform="translate(309.20,422.19) scale(1.080,1)" text-anchor="middle" font-size="44.6">s</text><text transform="translate(331.34,422.19) scale(0.950,1)" text-anchor="middle" font-size="44.6">p</text><text x="353.48" y="422.19" text-anchor="middle" font-size="44.6">e</text><text x="375.62" y="422.19" text-anchor="middle" font-size="44.6">c</text><text transform="translate(397.76,422.19) scale(1.120,1)" text-anchor="middle" font-size="44.6">i</text><text transform="translate(419.90,422.19) scale(0.645,1)" text-anchor="middle" font-size="44.6">m</text><text x="442.04" y="422.19" text-anchor="middle" font-size="44.6">e</text><text transform="translate(464.18,422.19) scale(0.960,1)" text-anchor="middle" font-size="44.6">n</text><text x="508.46" y="422.19" text-anchor="middle" font-size="44.6">8</text>
<text x="150.01" y="819.10" text-anchor="middle" font-size="34.4">0</text>
<text transform="translate(67.11,707.23) scale(0.880,1)" text-anchor="middle" font-size="34.4">1</text><text x="83.69" y="707.23" text-anchor="middle" font-size="34.4">0</text><text x="96.37" y="707.23" text-anchor="middle" font-size="34.4">,</text><text x="116.85" y="707.23" text-anchor="middle" font-size="34.4">0</text><text x="133.43" y="707.23" text-anchor="middle" font-size="34.4">0</text><text x="150.01" y="707.23" text-anchor="middle" font-size="34.4">0</text>
<text x="67.11" y="595.36" text-anchor="middle" font-size="34.4">2</text><text x="83.69" y="595.36" text-anchor="middle" font-size="34.4">0</text><text x="96.37" y="595.36" text-anchor="middle" font-size="34.4">,</text><text x="116.85" y="595.36" text-anchor="middle" font-size="34.4">0</text><text x="133.43" y="595.36" text-anchor="middle" font-size="34.4">0</text><text x="150.01" y="595.36" text-anchor="middle" font-size="34.4">0</text>
<text x="67.11" y="483.49" text-anchor="middle" font-size="34.4">3</text><text x="83.69" y="483.49" text-anchor="middle" font-size="34.4">0</text><text x="96.37" y="483.49" text-anchor="middle" font-size="34.4">,</text><text x="116.85" y="483.49" text-anchor="middle" font-size="34.4">0</text><text x="133.43" y="483.49" text-anchor="middle" font-size="34.4">0</text><text x="150.01" y="483.49" text-anchor="middle" font-size="34.4">0</text>
<text x="67.11" y="371.61" text-anchor="middle" font-size="34.4">4</text><text x="83.69" y="371.61" text-anchor="middle" font-size="34.4">0</text><text x="96.37" y="371.61" text-anchor="middle" font-size="34.4">,</text><text x="116.85" y="371.61" text-anchor="middle" font-size="34.4">0</text><text x="133.43" y="371.61" text-anchor="middle" font-size="34.4">0</text><text x="150.01" y="371.61" text-anchor="middle" font-size="34.4">0</text>
<text x="67.11" y="259.74" text-anchor="middle" font-size="34.4">5</text><text x="83.69" y="259.74" text-anchor="middle" font-size="34.4">0</text><text x="96.37" y="259.74" text-anchor="middle" font-size="34.4">,</text><text x="116.85" y="259.74" text-anchor="middle" font-size="34.4">0</text><text x="133.43" y="259.74" text-anchor="middle" font-size="34.4">0</text><text x="150.01" y="259.74" text-anchor="middle" font-size="34.4">0</text>
<text x="67.11" y="147.87" text-anchor="middle" font-size="34.4">6</text><text x="83.69" y="147.87" text-anchor="middle" font-size="34.4">0</text><text x="96.37" y="147.87" text-anchor="middle" font-size="34.4">,</text><text x="116.85" y="147.87" text-anchor="middle" font-size="34.4">0</text><text x="133.43" y="147.87" text-anchor="middle" font-size="34.4">0</text><text x="150.01" y="147.87" text-anchor="middle" font-size="34.4">0</text>
<text x="67.11" y="36.00" text-anchor="middle" font-size="34.4">7</text><text x="83.69" y="36.00" text-anchor="middle" font-size="34.4">0</text><text x="96.37" y="36.00" text-anchor="middle" font-size="34.4">,</text><text x="116.85" y="36.00" text-anchor="middle" font-size="34.4">0</text><text x="133.43" y="36.00" text-anchor="middle" font-size="34.4">0</text><text x="150.01" y="36.00" text-anchor="middle" font-size="34.4">0</text>
<text x="158.72" y="850.80" text-anchor="middle" font-size="34.4">0</text><text x="171.30" y="850.80" text-anchor="middle" font-size="34.4">.</text><text x="191.88" y="850.80" text-anchor="middle" font-size="34.4">0</text>
<text x="297.56" y="850.80" text-anchor="middle" font-size="34.4">0</text><text x="310.14" y="850.80" text-anchor="middle" font-size="34.4">.</text><text x="330.72" y="850.80" text-anchor="middle" font-size="34.4">5</text>
<text transform="translate(436.41,850.80) scale(0.880,1)" text-anchor="middle" font-size="34.4">1</text><text x="448.99" y="850.80" text-anchor="middle" font-size="34.4">.</text><text x="469.57" y="850.80" text-anchor="middle" font-size="34.4">0</text>
<text transform="translate(575.25,850.80) scale(0.880,1)" text-anchor="middle" font-size="34.4">1</text><text x="587.83" y="850.80" text-anchor="middle" font-size="34.4">.</text><text x="608.41" y="850.80" text-anchor="middle" font-size="34.4">5</text>
<text x="714.09" y="850.80" text-anchor="middle" font-size="34.4">2</text><text x="726.67" y="850.80" text-anchor="middle" font-size="34.4">.</text><text x="747.25" y="850.80" text-anchor="middle" font-size="34.4">0</text>
<text x="852.93" y="850.80" text-anchor="middle" font-size="34.4">2</text><text x="865.51" y="850.80" text-anchor="middle" font-size="34.4">.</text><text x="886.09" y="850.80" text-anchor="middle" font-size="34.4">5</text>
<text x="991.78" y="850.80" text-anchor="middle" font-size="34.4">3</text><text x="1004.36" y="850.80" text-anchor="middle" font-size="34.4">.</text><text x="1024.94" y="850.80" text-anchor="middle" font-size="34.4">0</text>
<text x="1130.62" y="850.80" text-anchor="middle" font-size="34.4">3</text><text x="1143.20" y="850.80" text-anchor="middle" font-size="34.4">.</text><text x="1163.78" y="850.80" text-anchor="middle" font-size="34.4">5</text>
<text transform="translate(508.70,904.60) scale(0.720,1)" text-anchor="middle" font-size="41.5">D</text><text transform="translate(529.10,904.60) scale(1.200,1)" text-anchor="middle" font-size="41.5">i</text><text transform="translate(549.50,904.60) scale(1.150,1)" text-anchor="middle" font-size="41.5">s</text><text transform="translate(569.90,904.60) scale(1.100,1)" text-anchor="middle" font-size="41.5">p</text><text transform="translate(590.30,904.60) scale(1.300,1)" text-anchor="middle" font-size="41.5">l</text><text x="610.70" y="904.60" text-anchor="middle" font-size="41.5">a</text><text transform="translate(631.10,904.60) scale(1.100,1)" text-anchor="middle" font-size="41.5">c</text><text x="651.50" y="904.60" text-anchor="middle" font-size="41.5">e</text><text transform="translate(671.90,904.60) scale(0.660,1)" text-anchor="middle" font-size="41.5">m</text><text x="692.30" y="904.60" text-anchor="middle" font-size="41.5">e</text><text transform="translate(712.70,904.60) scale(0.920,1)" text-anchor="middle" font-size="41.5">n</text><text transform="translate(733.10,904.60) scale(1.250,1)" text-anchor="middle" font-size="41.5">t</text><text x="755.80" y="901.10" text-anchor="middle" font-size="41.5">(</text><text transform="translate(773.90,904.60) scale(0.660,1)" text-anchor="middle" font-size="41.5">m</text><text transform="translate(794.30,904.60) scale(0.660,1)" text-anchor="middle" font-size="41.5">m</text><text transform="translate(809.70,901.10) scale(1.100,1)" text-anchor="middle" font-size="41.5">)</text>
<text transform="translate(45.00,476.90) rotate(-90) scale(0.850,1)" text-anchor="middle" font-size="41.5">L</text><text transform="translate(45.00,457.70) rotate(-90) scale(1.060,1)" text-anchor="middle" font-size="41.5">o</text><text transform="translate(45.00,437.90) rotate(-90) scale(1.120,1)" text-anchor="middle" font-size="41.5">a</text><text transform="translate(45.00,415.90) rotate(-90) scale(1.000,1)" text-anchor="middle" font-size="41.5">d</text><text transform="translate(42.00,389.80) rotate(-90) scale(1.000,1)" text-anchor="middle" font-size="41.5">(</text><text transform="translate(45.00,371.90) rotate(-90) scale(0.860,1)" text-anchor="middle" font-size="41.5">N</text><text transform="translate(42.00,356.00) rotate(-90) scale(1.000,1)" text-anchor="middle" font-size="41.5">)</text>
</g>
</svg></body></html>
